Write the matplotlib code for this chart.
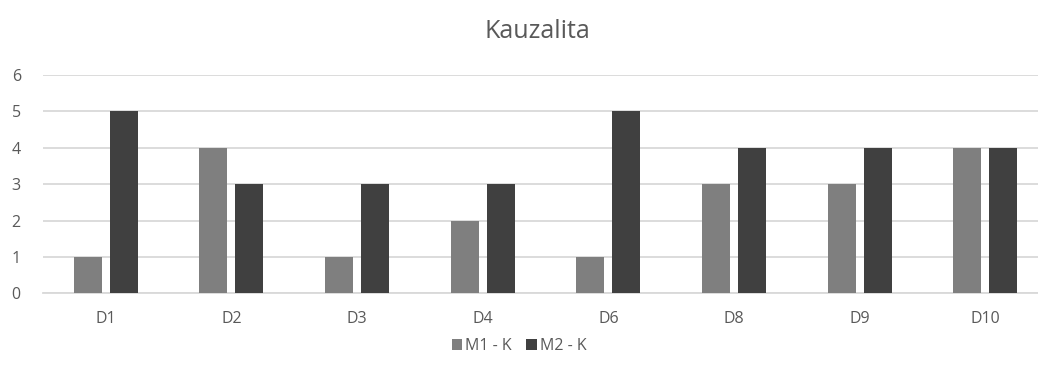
import matplotlib
matplotlib.use("Agg")
import matplotlib.pyplot as plt
import numpy as np

categories = ["D1", "D2", "D3", "D4", "D6", "D8", "D9", "D10"]
m1_values = [1, 4, 1, 2, 1, 3, 3, 4]
m2_values = [5, 3, 3, 3, 5, 4, 4, 4]
series_names = ["M1 - K", "M2 - K"]
title = "Kauzalita"

plt.rcParams["font.family"] = ["Open Sans", "DejaVu Sans"]
text_color = "#595959"
grid_color = "#d9d9d9"

fig = plt.figure(figsize=(10.38, 3.76), dpi=100)
ax = fig.add_axes([43 / 1038, (376 - 293.3) / 376, (1038 - 43) / 1038, (293.3 - 75) / 376])

x = np.arange(len(categories))
width = 0.223
offset = 0.143
b1 = ax.bar(x - offset, m1_values, width, color="#7f7f7f", label=series_names[0], zorder=3)
b2 = ax.bar(x + offset, m2_values, width, color="#404040", label=series_names[1], zorder=3)

ax.set_ylim(0, 6)
ax.set_xlim(-0.5, 7.5 - 10 / 125.6)
ax.set_yticks(range(0, 7))
ax.set_xticks(x)
ax.set_xticklabels(categories)
ax.yaxis.grid(True, color=grid_color, linewidth=1.3, zorder=0)
ax.set_axisbelow(True)
for side in ["top", "right", "left"]:
    ax.spines[side].set_visible(False)
ax.spines["bottom"].set_color(grid_color)
ax.spines["bottom"].set_linewidth(1.3)
ax.tick_params(axis="both", length=0, labelsize=11.5, labelcolor=text_color)
ax.tick_params(axis="x", pad=13)
ax.tick_params(axis="y", pad=16)

fig.text(0.518, 0.915, title, ha="center", va="center", fontsize=18, color=text_color)

fig.legend(handles=[b1, b2], labels=series_names, loc="center", bbox_to_anchor=(0.5, 0.08),
           ncol=2, frameon=False, fontsize=11.5, labelcolor=text_color,
           handlelength=0.65, handleheight=0.65, handletextpad=0.2, columnspacing=0.9)

fig.savefig("out.png", dpi=100)
